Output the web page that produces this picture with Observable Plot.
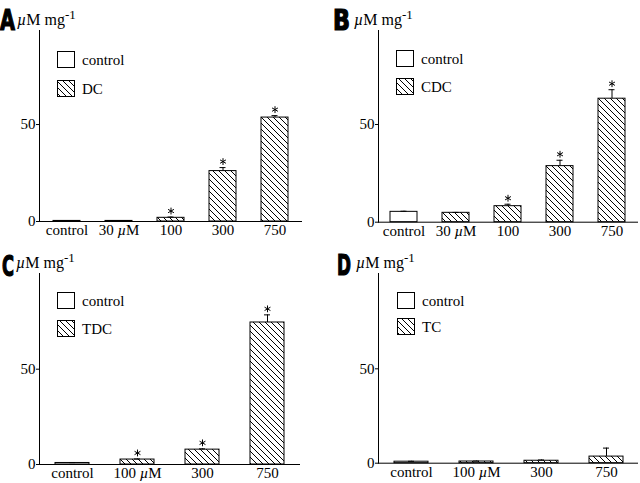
<!DOCTYPE html>
<html><head><meta charset="utf-8">
<script src="https://cdn.jsdelivr.net/npm/d3@7"></script>
<script src="https://cdn.jsdelivr.net/npm/@observablehq/plot@0.6"></script>
<style>
body{margin:0;background:#fff}
#root{position:relative;width:640px;height:483px;background:#fff;overflow:hidden;font-family:"Liberation Serif","DejaVu Serif","Times New Roman",Times,serif}
.panel{position:absolute;width:320px}
.panel svg{position:absolute;left:0;top:0}
</style></head><body>
<svg width="0" height="0" style="position:absolute"><defs>
<pattern id="hatch" patternUnits="userSpaceOnUse" width="6" height="6"><path d="M-1,-1L7,7M5,-1L7,1M-1,5L1,7" stroke="#000" stroke-width="1" fill="none"/></pattern>
</defs></svg>
<div id="root"></div>
<script>
// ---- data (µM mg-1) ----
const catsA = ["control", "30 µM", "100", "300", "750"];
const valsA = [0.3, 0.3, 1.9, 26.0, 53.6];
const errsA = [0.1, 0.1, 0.4, 1.8, 1.0];
const sigA  = [false, false, true, true, true];

const catsB = ["control", "30 µM", "100", "300", "750"];
const valsB = [5.3, 4.8, 8.2, 28.7, 63.2];
const errsB = [0.3, 0.2, 1.0, 3.0, 4.6];
const sigB  = [false, false, true, true, true];

const catsC = ["control", "100 µM", "300", "750"];
const valsC = [0.8, 2.6, 7.8, 74.5];
const errsC = [0.2, 0.3, 0.4, 4.0];
const sigC  = [false, true, true, true];

const catsD = ["control", "100 µM", "300", "750"];
const valsD = [0.8, 0.9, 1.3, 3.5];
const errsD = [0.2, 0.2, 0.4, 4.5];
const sigD  = [false, false, false, false];

const yTicks = [0, 50];
const panelLetters = ["A", "B", "C", "D"];
const seriesNames = ["DC", "CDC", "TDC", "TC"];

const SERIF = '"Liberation Serif", "DejaVu Serif", "Times New Roman", Times, serif';

const layouts = [
  {left:0,   top:0,   height:241, mL:39, mR:18, mB:20,   yTop:98.5,  cap:10.5, letterX:0,  letterW:15, letterY:30, titleX:17, boxX:57, boxY:51, gap:29},
  {left:320, top:0,   height:241, mL:58, mR:2,  mB:19.3, yTop:98.1,  cap:10.5, letterX:13, letterW:17, letterY:30, titleX:34, boxX:76, boxY:50, gap:28},
  {left:0,   top:243, height:240, mL:39, mR:20, mB:19,   yTop:100.2, cap:14,   letterX:2,  letterW:12, letterY:33, titleX:16, boxX:57, boxY:49, gap:28},
  {left:320, top:243, height:240, mL:58, mR:2,  mB:20.3, yTop:100.5, cap:14,   letterX:17, letterW:14, letterY:32, titleX:36, boxX:77, boxY:49, gap:26}
];
const datasets = [
  [catsA, valsA, errsA, sigA],
  [catsB, valsB, errsB, sigB],
  [catsC, valsC, errsC, sigC],
  [catsD, valsD, errsD, sigD]
];

const root = document.getElementById("root");
const NS = "http://www.w3.org/2000/svg";

function italicMu(el) {
  const t = el.textContent;
  if (!t.includes("µ")) return;
  el.textContent = "";
  t.split("µ").forEach((p, i) => {
    if (i > 0) {
      const s = document.createElementNS(NS, "tspan");
      s.setAttribute("font-style", "italic");
      s.textContent = "µ";
      el.appendChild(s);
    }
    if (p) el.appendChild(document.createTextNode(p));
  });
}

datasets.forEach(([cats, vals, errs, sig], k) => {
  const L = layouts[k];
  const data = cats.map((c, i) => ({cat: c, value: vals[i], err: errs[i], sig: sig[i], ctrl: i === 0}));
  const div = document.createElement("div");
  div.className = "panel";
  div.style.left = L.left + "px";
  div.style.top = L.top + "px";
  div.style.height = L.height + "px";
  root.appendChild(div);

  const svg = Plot.plot({
    width: 320, height: L.height,
    marginLeft: L.mL, marginRight: L.mR, marginTop: 30, marginBottom: L.mB,
    style: {fontFamily: SERIF, fontSize: "15px", color: "black", background: "transparent", overflow: "visible"},
    x: {domain: cats, paddingInner: 0.48, paddingOuter: 0.24, label: null, tickSize: 0, tickPadding: 3},
    y: {domain: [0, L.yTop], ticks: yTicks, tickSize: 3, tickPadding: 1, line: true, label: null},
    marks: [
      Plot.barY(data.filter(d => d.ctrl), {x: "cat", y: "value", fill: "white", stroke: "black", strokeWidth: 1}),
      Plot.barY(data.filter(d => !d.ctrl), {x: "cat", y: "value", fill: "url(#hatch)", stroke: "black", strokeWidth: 1}),
      Plot.ruleX(data, {x: "cat", y1: "value", y2: d => d.value + d.err, stroke: "black"}),
      Plot.tickY(data, {x: "cat", y: d => d.value + d.err, insetLeft: L.cap, insetRight: L.cap, stroke: "black"}),
      Plot.dot(data.filter(d => d.sig), {x: "cat", y: d => d.value + d.err, symbol: "asterisk", r: 3.2, dy: -6, stroke: "black", strokeWidth: 1}),
      Plot.ruleY([0], {stroke: "black"})
    ]
  });
  d3.select(svg).selectAll("text").attr("font-family", SERIF).each(function() { italicMu(this); });
  div.appendChild(svg);

  // overlay: panel letter, unit label, legend
  const ov = d3.select(div).append("svg").attr("width", 320).attr("height", L.height)
    .attr("font-family", SERIF).style("overflow", "visible");
  const letter = ov.append("text")
    .attr("font-family", '"Liberation Sans Narrow", "DejaVu Sans Condensed", "Liberation Sans", sans-serif')
    .attr("font-weight", "bold").attr("font-size", 28)
    .attr("stroke", "black").attr("stroke-width", 1.2)
    .text(panelLetters[k]);
  const natural = letter.node().getComputedTextLength() || 20;
  letter.attr("transform", `translate(${L.letterX},${L.letterY}) scale(${L.letterW / natural},1)`);

  const tt = ov.append("text").attr("x", L.titleX).attr("y", 25).attr("font-size", 16).attr("font-family", SERIF);
  tt.append("tspan").attr("font-style", "italic").text("µ");
  tt.append("tspan").text("M mg");
  tt.append("tspan").attr("dy", -6).attr("font-size", 13).text("-1");

  const items = [["control", "white"], [seriesNames[k], "url(#hatch)"]];
  items.forEach(([name, fill], j) => {
    const y = L.boxY + j * L.gap;
    ov.append("rect").attr("x", L.boxX + 0.5).attr("y", y + 0.5).attr("width", 17).attr("height", 16)
      .attr("fill", fill).attr("stroke", "black");
    ov.append("text").attr("x", L.boxX + 25).attr("y", y + 14).attr("font-size", 15).attr("font-family", SERIF).text(name);
  });
});
</script>
</body></html>
